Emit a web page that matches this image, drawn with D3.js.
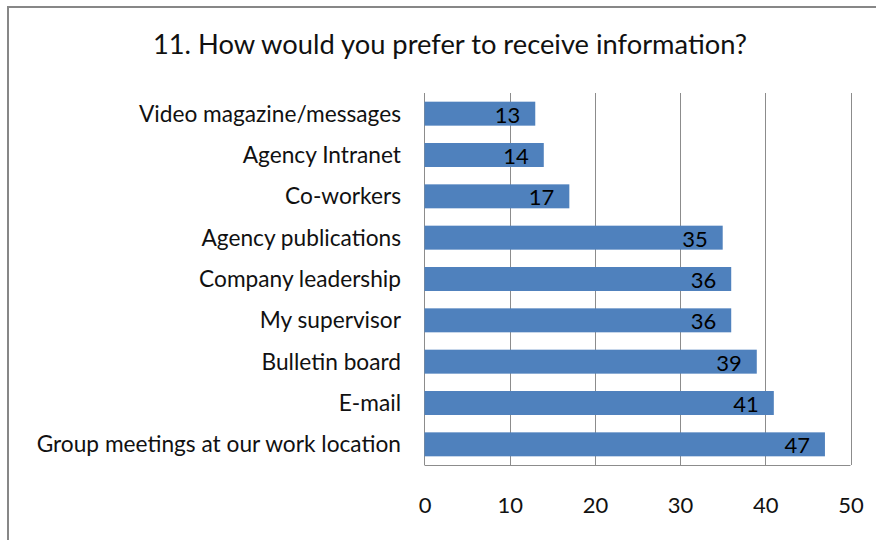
<!DOCTYPE html>
<html><head><meta charset="utf-8">
<script src="https://cdn.jsdelivr.net/npm/d3@7"></script>
<style>body{margin:0;background:#fff}svg{display:block}</style>
</head><body>
<svg id="c" width="876" height="540"></svg>
<script>
const categories = ["Video magazine/messages","Agency Intranet","Co-workers","Agency publications","Company leadership","My supervisor","Bulletin board","E-mail","Group meetings at our work location"];
const values = [13,14,17,35,36,36,39,41,47];
const xTicks = [0,10,20,30,40,50];
const title = "11. How would you prefer to receive information?";

const svg = d3.select("#c");
const font = "Lato, 'Open Sans', sans-serif";
// outer chart border
svg.append("rect").attr("x",8).attr("y",7).attr("width",900).attr("height",600)
  .attr("fill","none").attr("stroke","#878787").attr("stroke-width",2);

const L=424.5, R=850.5, T=93, B=465;
const x = d3.scaleLinear().domain([0,50]).range([L,R]);
const y = d3.scaleBand().domain(categories).range([T,B]).paddingInner(0.42).paddingOuter(0.21);

svg.append("text").attr("x",450).attr("y",54).attr("text-anchor","middle")
  .attr("font-family",font).attr("font-size",27.3).attr("fill","#111").text(title);

// gridlines
svg.append("g").selectAll("line").data(xTicks.slice(1)).join("line")
  .attr("x1",d=>Math.round(x(d))+0.5).attr("x2",d=>Math.round(x(d))+0.5).attr("y1",T).attr("y2",B)
  .attr("stroke","#8c8c8c").attr("stroke-width",1);
// left axis & bottom
svg.append("line").attr("x1",L).attr("x2",L).attr("y1",T).attr("y2",B).attr("stroke","#8c8c8c");
svg.append("line").attr("x1",L).attr("x2",R).attr("y1",B+0.5).attr("y2",B+0.5).attr("stroke","#8c8c8c");

// bars
svg.append("g").selectAll("rect").data(values).join("rect")
  .attr("x",x(0)).attr("y",(d,i)=>y(categories[i]))
  .attr("width",d=>x(d)-x(0)).attr("height",y.bandwidth())
  .attr("fill","#4F81BD");

// value labels
svg.append("g").selectAll("text").data(values).join("text")
  .attr("x",d=>x(d)-15).attr("y",(d,i)=>y(categories[i])+y.bandwidth()/2+9)
  .attr("text-anchor","end").attr("font-family",font).attr("font-size",22).attr("fill","#000")
  .text(d=>d);

// category labels
svg.append("g").selectAll("text").data(categories).join("text")
  .attr("x",401).attr("y",d=>y(d)+y.bandwidth()/2+8)
  .attr("text-anchor","end").attr("font-family",font).attr("font-size",22.7).attr("fill","#111")
  .text(d=>d);

// x tick labels
const xAxis = d3.axisBottom(x).tickValues(xTicks).tickSize(0).tickPadding(0);
const gx = svg.append("g").attr("transform",`translate(0,${B})`).call(xAxis);
gx.select(".domain").remove();
gx.selectAll("text").attr("font-family",font).attr("font-size",22).attr("fill","#111")
  .attr("dy",null).attr("y",48);
</script>
</body></html>
